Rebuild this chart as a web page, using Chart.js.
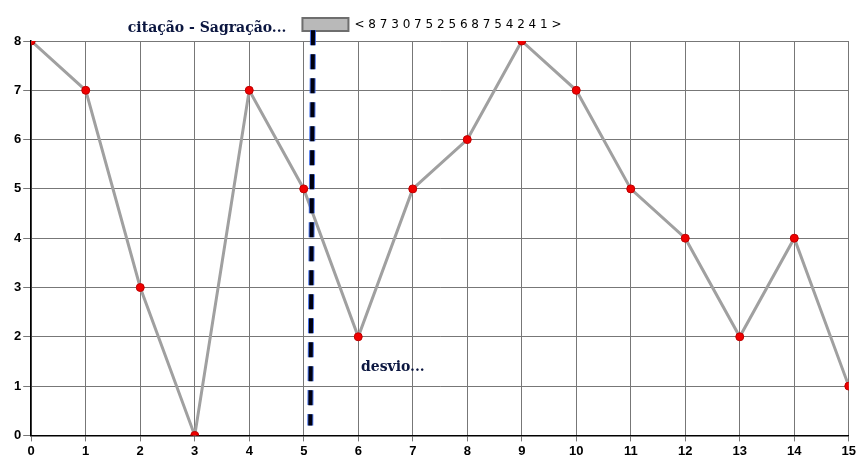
<!DOCTYPE html>
<html>
<head>
<meta charset="utf-8">
<script src="https://cdn.jsdelivr.net/npm/chart.js@4/dist/chart.umd.min.js"></script>
<style>
  html, body { margin: 0; padding: 0; background: #fff; }
  #wrap { width: 858px; height: 461px; }
</style>
</head>
<body>
<div id="wrap"><canvas id="myChart" width="858" height="461"></canvas></div>
<script>
const xValues = [0, 1, 2, 3, 4, 5, 6, 7, 8, 9, 10, 11, 12, 13, 14, 15];
const yValues = [8, 7, 3, 0, 7, 5, 2, 5, 6, 8, 7, 5, 4, 2, 4, 1];
const seriesLabel = "< 8 7 3 0 7 5 2 5 6 8 7 5 4 2 4 1 >";

// dashed marker line (x, y)
const markX = [5.17, 5.12];
const markY = [8.22, 0.2];

const notes = [
  { text: "citação - Sagração...", x: null, y: null },
  { text: "desvio...", x: 6.05, y: 1.37 }
];

const points = xValues.map((x, i) => ({ x: x, y: yValues[i] }));
const markPoints = markX.map((x, i) => ({ x: x, y: markY[i] }));

const notesPlugin = {
  id: "notes",
  afterDraw(chart) {
    const ctx = chart.ctx;
    ctx.save();
    ctx.font = "bold 14px 'DejaVu Serif', 'Liberation Serif', serif";
    ctx.fillStyle = "#0b1640";
    ctx.textBaseline = "middle";
    // title left of legend box
    const box = chart.legend.legendHitBoxes[0];
    ctx.textAlign = "right";
    ctx.fillText(notes[0].text, box.left - 16, box.top + box.height / 2 + 4);
    // note near the dip
    ctx.textAlign = "left";
    ctx.fillText(notes[1].text, chart.scales.x.getPixelForValue(notes[1].x), chart.scales.y.getPixelForValue(notes[1].y));
    ctx.restore();
  }
};

const data = {
  datasets: [
    {
      label: seriesLabel,
      data: points,
      order: 3,
      borderColor: "rgb(160, 160, 160)",
      backgroundColor: "rgb(185, 185, 185)",
      borderWidth: 3,
      pointRadius: 4,
      pointBackgroundColor: "rgb(240, 0, 0)",
      pointBorderColor: "rgb(190, 0, 0)",
      pointBorderWidth: 1,
      tension: 0
    },
    {
      label: "glow",
      data: markPoints,
      order: 2,
      clip: false,
      borderColor: "rgba(40, 90, 230, 0.85)",
      borderWidth: 6,
      borderDash: [15, 9],
      pointRadius: 0
    },
    {
      label: "mark",
      data: markPoints,
      order: 1,
      clip: false,
      borderColor: "rgb(0, 0, 15)",
      borderWidth: 4,
      borderDash: [15, 9],
      pointRadius: 0
    }
  ]
};

const config = {
  type: "line",
  data: data,
  options: {
    responsive: false,
    animation: false,
    layout: { padding: { left: 12, right: 6, top: 8, bottom: 0 } },
    plugins: {
      legend: {
        display: true,
        position: "top",
        labels: {
          boxWidth: 46,
          boxHeight: 13,
          color: "#222",
          font: { family: "'DejaVu Sans', sans-serif", size: 12 },
          generateLabels: (chart) => [{
            text: seriesLabel,
            fillStyle: "rgb(185, 185, 185)",
            strokeStyle: "rgb(110, 110, 110)",
            lineWidth: 2,
            datasetIndex: 0
          }]
        }
      },
      tooltip: { enabled: false }
    },
    scales: {
      x: {
        type: "linear",
        min: 0,
        max: 15,
        ticks: {
          stepSize: 1,
          color: "#000",
          font: { family: "'Liberation Sans', Arial, sans-serif", size: 13, weight: "bold" },
          padding: 2
        },
        grid: { color: "#777", lineWidth: 1, tickLength: 6 },
        border: { color: "#000", width: 1.5 }
      },
      y: {
        min: 0,
        max: 8,
        ticks: {
          stepSize: 1,
          color: "#000",
          font: { family: "'Liberation Sans', Arial, sans-serif", size: 13, weight: "bold" },
          padding: 2
        },
        grid: { color: "#777", lineWidth: 1, tickLength: 8 },
        border: { color: "#000", width: 1.5 }
      }
    }
  },
  plugins: [notesPlugin]
};

const myChart = new Chart(document.getElementById("myChart"), config);
</script>
</body>
</html>
